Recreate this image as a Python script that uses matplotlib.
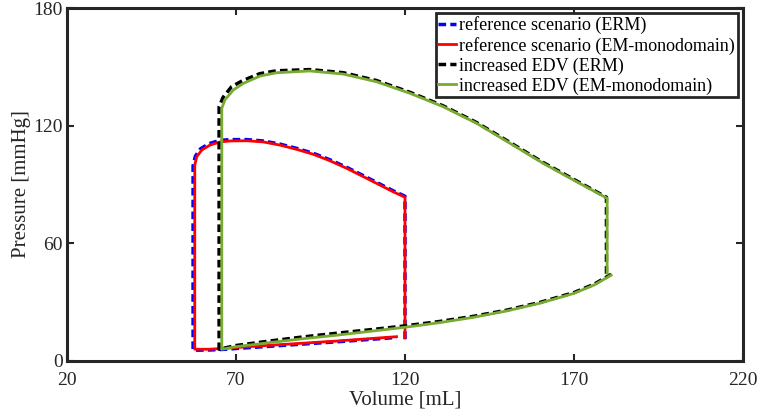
import numpy as np
import matplotlib
matplotlib.use("Agg")
import matplotlib.pyplot as plt

plt.rcParams['font.family'] = ['Liberation Serif', 'DejaVu Serif']

# Reference scenario, ERM (blue dashed)
ref_erm_V = [120.0, 120.0, 116.5, 112.6, 107.7, 102.7, 97.8, 92.9, 88.0, 83.0, 78.1, 73.2,
             68.2, 65.0, 62.0, 59.5, 58.0, 57.3, 57.3,
             62.0, 66.0, 80.0, 100.0, 117.5]
ref_erm_P = [11.2, 84.0, 86.8, 90.2, 94.5, 98.8, 102.6, 105.9, 108.4, 110.6, 112.2, 112.9,
             112.9, 112.4, 110.8, 108.2, 104.5, 99.5, 5.5,
             5.6, 5.9, 7.5, 9.8, 12.0]

# Reference scenario, EM-monodomain (red solid)
ref_em_V = [120.0, 120.0, 116.5, 112.6, 107.7, 102.7, 97.8, 92.9, 88.0, 83.0, 78.1, 73.2,
            68.2, 65.3, 62.3, 59.9, 58.4, 57.8, 57.8,
            62.0, 66.0, 80.0, 100.0, 117.5]
ref_em_P = [11.7, 83.5, 86.3, 89.7, 94.0, 98.3, 102.1, 105.4, 107.9, 110.1, 111.7, 112.3,
            112.2, 111.7, 110.1, 107.6, 104.2, 99.9, 6.0,
            6.0, 6.4, 8.0, 10.2, 12.4]

# Increased EDV, ERM (black dashed)
edv_erm_V = [179.6, 179.6, 170.8, 160.9, 151.1, 141.2, 131.3, 121.5, 111.6, 101.8, 91.9,
             82.0, 77.0, 72.0, 68.7, 66.2, 65.0, 65.0,
             70.0, 80.0, 90.0, 100.0, 110.0, 120.0, 130.0, 140.0, 150.0,
             160.0, 170.0, 176.0, 181.0]
edv_erm_P = [44.5, 83.5, 91.8, 101.2, 111.4, 121.6, 130.1, 137.0, 143.0, 147.0, 148.6,
             148.0, 146.5, 143.0, 139.9, 134.5, 129.7, 6.0,
             7.9, 10.2, 12.3, 14.2, 16.0, 17.9, 20.1, 22.7, 25.9,
             29.9, 34.9, 39.2, 44.2]

# Increased EDV, EM-monodomain (green solid)
edv_em_V = [179.8, 179.8, 170.8, 160.9, 151.1, 141.2, 131.3, 121.5, 111.6, 101.8, 91.9,
            82.0, 77.1, 72.2, 69.2, 66.7, 65.8, 65.8,
            70.0, 80.0, 90.0, 100.0, 110.0, 120.0, 130.0, 140.0, 150.0,
            160.0, 170.0, 176.0, 181.0]
edv_em_P = [44.8, 83.0, 91.4, 100.8, 111.0, 121.2, 129.7, 136.5, 142.4, 146.3, 147.9,
            147.0, 145.3, 141.6, 138.2, 133.1, 128.9, 6.0,
            7.3, 9.4, 11.4, 13.2, 15.2, 17.2, 19.5, 22.2, 25.5,
            29.5, 34.5, 38.8, 43.8]

labels = ["reference scenario (ERM)", "reference scenario (EM-monodomain)",
          "increased EDV (ERM)", "increased EDV (EM-monodomain)"]
xticks = [20, 70, 120, 170, 220]
yticks = [0, 60, 120, 180]

green = '#77AC30'
dash = (0, (2.2, 1.2))
axc = '#262626'

fig = plt.figure(figsize=(7.57, 4.17), dpi=100)
ax = fig.add_axes([0.0885, 0.1343, 0.893, 0.8465])

l1, = ax.plot(ref_erm_V, ref_erm_P, color='blue', lw=2.5, ls=dash, label=labels[0])
l2, = ax.plot(ref_em_V, ref_em_P, color='red', lw=2.0, label=labels[1])
l3, = ax.plot(edv_erm_V, edv_erm_P, color='black', lw=2.5, ls=dash, label=labels[2])
l4, = ax.plot(edv_em_V, edv_em_P, color=green, lw=2.0, label=labels[3])

ax.set_xlim(20, 220)
ax.set_ylim(0, 180)
ax.set_xticks(xticks)
ax.set_yticks(yticks)
ax.tick_params(direction='in', length=5, width=1.5, top=True, right=True,
               labelsize=14, colors=axc, labelcolor=axc)
ax.tick_params(axis='x', pad=8)
ax.tick_params(axis='y', pad=3)
for s in ax.spines.values():
    s.set_linewidth(2.2)
    s.set_color(axc)

ax.set_xlabel('Volume [mL]', fontsize=15, color=axc, labelpad=1)
ax.set_ylabel('Pressure [mmHg]', fontsize=15, color=axc, labelpad=2)

leg = ax.legend(handles=[l1, l2, l3, l4], loc='upper right', fontsize=13,
                handlelength=1.0, handletextpad=0.15, labelspacing=0.15,
                borderpad=0.15, borderaxespad=0.3, fancybox=False, framealpha=1)
leg.get_frame().set_edgecolor(axc)
leg.get_frame().set_linewidth(2.0)

fig.savefig('out.png', dpi=100)
